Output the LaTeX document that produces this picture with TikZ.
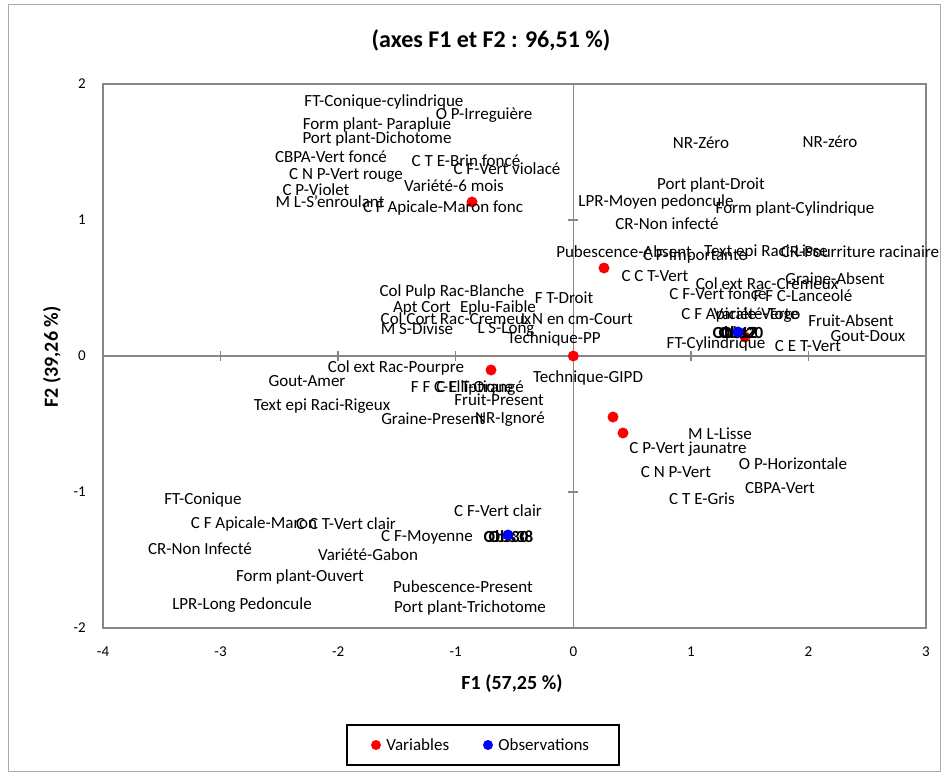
\documentclass[tikz,border=0pt]{standalone}
\usepackage{fontspec}
\setmainfont{Carlito}
\usetikzlibrary{positioning}

\definecolor{axisgray}{RGB}{134,134,134}

\begin{document}
\begin{tikzpicture}[x=1pt,y=-1pt,
  every node/.style={inner sep=0pt},
  lab/.style={font=\fontsize{17}{17}\selectfont},
  obs/.style={font=\fontsize{17}{17}\selectfont\bfseries},
  var/.style={circle,fill=red,minimum size=11pt},
  ob/.style={circle,fill=blue,minimum size=11pt},
  ticklab/.style={font=\fontsize{15}{15}\selectfont},
  axis/.style={draw=axisgray,line width=1.4pt}]
  \useasboundingbox (0,0) rectangle (946,776);

  % chart and plot frames
  \draw[axisgray!70,line width=1pt] (8,5) rectangle (940,771);
  \draw[axis] (103,84) rectangle (926,628);

  % axes through the origin, in data units
  \begin{scope}[shift={(573.3,356)},x=117.57pt,y=136pt]
    \draw[axis] (-4,0) -- (3,0);
    \draw[axis] (0,-2) -- (0,2);
    \foreach \k in {-3,...,2} \draw[axis] (\k,-0.037) -- (\k,0.037);
    \foreach \k in {-1,1} \draw[axis] (-0.043,\k) -- (0.043,\k);
    \foreach \k in {-4,...,3} \node[ticklab] (tx\k) at (\k,-2.176) {\k};
    \foreach \k in {-2,...,2} \node[ticklab,anchor=east] (ty\k) at (-4.145,\k) {\k};
  \end{scope}

  \node[font=\fontsize{24}{24}\selectfont\bfseries] (title) at (491,40) {(axes F1 et F2 : 96,51 \%)};
  \node[font=\fontsize{20}{20}\selectfont\bfseries] (f1) at (512,684) {F1 (57,25 \%)};
  \node[font=\fontsize{20}{20}\selectfont\bfseries,rotate=90] (f2) at (52,357) {F2 (39,26 \%)};

  % variables
  \node[var] (d1) at (472,202) {};
  \node[var] (d2) at (604,268) {};
  \node[var] (d3) at (573.3,356) {};
  \node[var] (d4) at (491,370) {};
  \node[var] (d5) at (613,417) {};
  \node[var] (d6) at (623,433) {};
  \node[var] (d7) at (745,337) {};

  \node[lab] (l1)  at (384,102) {FT-Conique-cylindrique};
  \node[lab] (l2)  at (484,115) {O P-Irreguière};
  \node[lab] (l3)  at (377,125) {Form plant- Parapluie};
  \node[lab] (l4)  at (377,139) {Port plant-Dichotome};
  \node[lab] (l5)  at (331,157) {CBPA-Vert foncé};
  \node[lab] (l6)  at (466,161) {C T E-Brin foncé};
  \node[lab] (l7)  at (507,169) {C F-Vert violacé};
  \node[lab] (l8)  at (346,175) {C N P-Vert rouge};
  \node[lab] (l9)  at (454,186) {Variété-6 mois};
  \node[lab] (l10) at (316,190) {C P-Violet};
  \node[lab] (l11) at (330,202) {M L-S'enroulant};
  \node[lab] (l12) at (443,208) {C F Apicale-Maron fonc};

  \node[lab] (l13) at (701,143) {NR-Zéro};
  \node[lab] (l14) at (830,142) {NR-zéro};
  \node[lab] (l15) at (711,185) {Port plant-Droit};
  \node[lab] (l16) at (656,202) {LPR-Moyen pedoncule};
  \node[lab] (l17) at (795,209) {Form plant-Cylindrique};
  \node[lab] (l18) at (667,224) {CR-Non infecté};
  \node[lab] (l19) at (624,252) {Pubescence-Absent};
  \node[lab] (l20) at (695,256) {C F-Importante};
  \node[lab] (l21) at (766,252) {Text epi Raci-Lisse};
  \node[lab] (l22) at (860,252) {CR-Pourriture racinaire};
  \node[lab] (l23) at (655,276) {C C T-Vert};
  \node[lab] (l24) at (835,279) {Graine-Absent};
  \node[lab] (l25) at (767,284) {Col ext Rac-Cremeux};
  \node[lab] (l26) at (718,294) {C F-Vert foncé};
  \node[lab] (l27) at (803,296) {F F C-Lanceolé};
  \node[lab] (l28) at (740,315) {C F Apicale-Verte};
  \node[lab] (l29) at (757,315) {Variété-Togo};
  \node[lab] (l30) at (851,321) {Fruit-Absent};
  \node[lab] (l31) at (868,336) {Gout-Doux};
  \node[lab] (l32) at (716,344) {FT-Cylindrique};
  \node[lab] (l33) at (808,346) {C E T-Vert};

  \node[lab] (l34) at (452,292) {Col Pulp Rac-Blanche};
  \node[lab] (l35) at (564,298) {F T-Droit};
  \node[lab] (l36) at (422,308) {Apt Cort};
  \node[lab] (l37) at (498,308) {Eplu-Faible};
  \node[lab] (l38) at (577,319) {L N en cm-Court};
  \node[lab] (l39) at (456,319) {Col Cort Rac-Cremeux};
  \node[lab] (l40) at (417,329) {M S-Divise};
  \node[lab] (l41) at (506,329) {L S-Long};
  \node[lab] (l42) at (554,339) {Technique-PP};

  \node[lab] (l43) at (396,368) {Col ext Rac-Pourpre};
  \node[lab] (l44) at (307,381) {Gout-Amer};
  \node[lab] (l45) at (588,378) {Technique-GIPD};
  \node[lab] (l46) at (462,388) {F F C-Elliptique};
  \node[lab] (l47) at (480,388) {C E T-Orangé};
  \node[lab] (l48) at (499,400) {Fruit-Present};
  \node[lab] (l49) at (322,406) {Text epi Raci-Rigeux};
  \node[lab] (l50) at (433,419) {Graine-Present};
  \node[lab] (l51) at (510,419) {NR-Ignoré};

  \node[lab] (l52) at (720,434) {M L-Lisse};
  \node[lab] (l53) at (688,449) {C P-Vert jaunatre};
  \node[lab] (l54) at (793,464) {O P-Horizontale};
  \node[lab] (l55) at (676,472) {C N P-Vert};
  \node[lab] (l56) at (780,488) {CBPA-Vert};
  \node[lab] (l57) at (702,499) {C T E-Gris};

  \node[lab] (l58) at (203,500) {FT-Conique};
  \node[lab] (l59) at (498,511) {C F-Vert clair};
  \node[lab] (l60) at (254,524) {C F Apicale-Maron};
  \node[lab] (l61) at (346,524) {C C T-Vert clair};
  \node[lab] (l62) at (427,537) {C F-Moyenne};
  \node[lab] (l63) at (200,549) {CR-Non Infecté};
  \node[lab] (l64) at (368,555) {Variété-Gabon};
  \node[lab] (l65) at (300,577) {Form plant-Ouvert};
  \node[lab] (l66) at (463,587) {Pubescence-Present};
  \node[lab] (l67) at (242,605) {LPR-Long Pedoncule};
  \node[lab] (l68) at (470,608) {Port plant-Trichotome};

  % observations
  \node[obs] (o1) at (735,333) {Obs12};
  \node[obs] (o2) at (741,333) {Obs20};
  \node[obs] (o3) at (739,333) {Obs7};
  \node[obs] (o4) at (506,537) {Obs30};
  \node[obs] (o5) at (511,537) {Obs38};
  \node[ob] (b1) at (738,332) {};
  \node[ob] (b2) at (508,535) {};

  % legend
  \node[draw=black,line width=1.5pt,minimum width=272pt,minimum height=40pt] (leg) at (483,745) {};
  \node[var,minimum size=10pt] (lr) at (376,745) {};
  \node[lab,right=5pt of lr] (lv) {Variables};
  \node[ob,minimum size=10pt] (lb) at (488,745) {};
  \node[lab,right=5pt of lb] (lo) {Observations};
\end{tikzpicture}
\end{document}
